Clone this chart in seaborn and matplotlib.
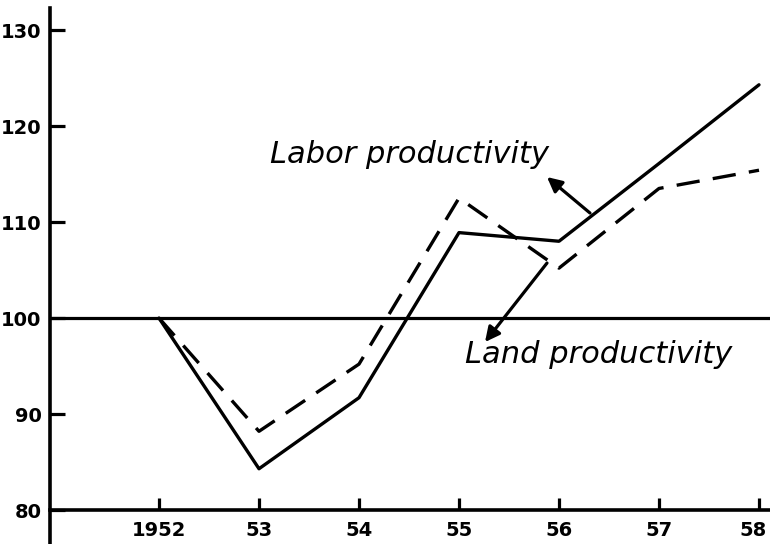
import matplotlib
matplotlib.use("Agg")
import matplotlib.pyplot as plt
import matplotlib.transforms as mtransforms
import seaborn as sns
import pandas as pd

years = [1952, 1953, 1954, 1955, 1956, 1957, 1958]
year_labels = ["1952", "53", "54", "55", "56", "57", "58"]
labor = [100, 84.3, 91.7, 108.9, 108.0, 116.1, 124.3]
land = [100, 88.2, 95.2, 112.5, 105.2, 113.5, 115.4]
yticks = [80, 90, 100, 110, 120, 130]

df = pd.DataFrame({
    "year": years * 2,
    "value": labor + land,
    "series": ["Labor productivity"] * len(years) + ["Land productivity"] * len(years),
})

sns.set_style("white")
plt.rcParams["font.family"] = ["DejaVu Sans"]
plt.rcParams["text.color"] = "black"
plt.rcParams["xtick.color"] = "black"
plt.rcParams["ytick.color"] = "black"

fig = plt.figure(figsize=(7.7, 5.44), dpi=100)
ax = fig.add_axes([50 / 770, 0.0, 1 - 50 / 770, 1 - 8 / 544])

sns.lineplot(data=df, x="year", y="value", hue="series", style="series",
             palette={"Labor productivity": "black", "Land productivity": "black"},
             dashes={"Labor productivity": "", "Land productivity": (7, 4)},
             linewidth=2.4, legend=False, ax=ax)

ax.axhline(100, color="black", lw=2.3, zorder=1)

ax.set_xlim(1950.91, 1958.11)
ax.set_ylim(76.46, 132.3)

for s in ["top", "right"]:
    ax.spines[s].set_visible(False)
ax.spines["bottom"].set_position(("data", 80))
for s in ["left", "bottom"]:
    ax.spines[s].set_linewidth(2.6)
    ax.spines[s].set_color("black")

ax.set_xticks(years)
ax.set_xticklabels(year_labels, fontsize=14, fontweight="bold", color="black")
ax.set_yticks(yticks)
ax.set_yticklabels([str(v) for v in yticks], fontsize=14, fontweight="bold", color="black")
ax.tick_params(axis="x", direction="in", length=9, width=2.3, pad=8, bottom=True)
ax.tick_params(axis="y", direction="in", length=11, width=2.3, pad=6, left=True)
ax.set_xlabel("")
ax.set_ylabel("")

last = ax.get_xticklabels()[-1]
last.set_transform(last.get_transform() + mtransforms.ScaledTranslation(-6 / 100, 0, fig.dpi_scale_trans))

ax.text(1953.11, 117.0, "Labor productivity", fontsize=22, style="italic",
        va="center", ha="left", color="black")
ax.text(1955.06, 96.15, "Land productivity", fontsize=22, style="italic",
        va="center", ha="left", color="black")

ax.annotate("", xy=(1955.88, 114.69), xytext=(1956.31, 110.94),
            arrowprops=dict(arrowstyle="-|>", color="black", lw=2.3,
                            mutation_scale=22, shrinkA=0, shrinkB=0))
ax.annotate("", xy=(1955.26, 97.5), xytext=(1955.88, 105.73),
            arrowprops=dict(arrowstyle="-|>", color="black", lw=2.3,
                            mutation_scale=22, shrinkA=0, shrinkB=0))

fig.savefig("out.png", dpi=100, facecolor="white")
